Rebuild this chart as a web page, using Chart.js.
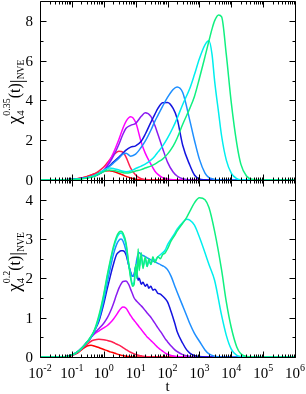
<!DOCTYPE html>
<html>
<head>
<meta charset="utf-8">
<script src="https://cdn.jsdelivr.net/npm/chart.js@4.4.1/dist/chart.umd.min.js"></script>
<style>
  html, body { margin: 0; padding: 0; background: #fff; }
  #wrap { position: relative; width: 306px; height: 394px; }
  #topChart { position: absolute; left: 0; top: 0; }
  #botChart { position: absolute; left: 0; top: 180px; }
</style>
</head>
<body>
<div id="wrap">
  <canvas id="topChart" width="306" height="190"></canvas>
  <canvas id="botChart" width="306" height="214"></canvas>
</div>
<script>
// --- top panel: chi4 at q = 0.35 ---
const tTop = [
  0.01, 0.05, 0.1, 0.2, 0.3, 0.5, 0.7, 1, 1.5, 2,
  3, 4, 5, 7, 10, 15, 20, 30, 40, 50,
  70, 100, 150, 200, 300, 500, 700, 1000, 1500, 2000,
  2500, 3000, 4000, 5000, 7000, 1e4, 1.5e4, 2e4, 3e4, 5e4,
  1e5, 1e6];

const redTop = [
  0, 0, 0.03, 0.1, 0.18, 0.3, 0.38, 0.45, 0.47, 0.43,
  0.33, 0.25, 0.18, 0.1, 0.04, 0.01, 0, 0, 0, 0,
  0, 0, 0, 0, 0, 0, 0, 0, 0, 0,
  0, 0, 0, 0, 0, 0, 0, 0, 0, 0,
  0, 0];
const crimsonTop = [
  0, 0, 0.03, 0.1, 0.17, 0.3, 0.45, 0.65, 1.0, 1.25,
  1.45, 1.4, 1.15, 0.6, 0.25, 0.06, 0.02, 0, 0, 0,
  0, 0, 0, 0, 0, 0, 0, 0, 0, 0,
  0, 0, 0, 0, 0, 0, 0, 0, 0, 0,
  0, 0];
const magentaTop = [
  0, 0, 0.03, 0.08, 0.12, 0.2, 0.3, 0.5, 0.95, 1.35,
  2.05, 2.6, 2.95, 3.18, 2.9, 1.9, 1.35, 0.8, 0.45, 0.28,
  0.12, 0.05, 0.01, 0, 0, 0, 0, 0, 0, 0,
  0, 0, 0, 0, 0, 0, 0, 0, 0, 0,
  0, 0];
const purpleTop = [
  0, 0, 0.03, 0.08, 0.12, 0.2, 0.3, 0.48, 0.85, 1.2,
  1.8, 2.3, 2.6, 2.75, 2.85, 3.2, 3.38, 3.2, 2.75, 2.3,
  1.6, 0.9, 0.4, 0.2, 0.06, 0.01, 0, 0, 0, 0,
  0, 0, 0, 0, 0, 0, 0, 0, 0, 0,
  0, 0];
const blueTop = [
  0, 0, 0.03, 0.08, 0.12, 0.2, 0.3, 0.45, 0.7, 0.9,
  1.15, 1.35, 1.5, 1.65, 1.72, 1.95, 2.3, 2.9, 3.3, 3.6,
  3.88, 3.9, 3.6, 3.1, 1.75, 0.75, 0.25, 0.05, 0.01, 0,
  0, 0, 0, 0, 0, 0, 0, 0, 0, 0,
  0, 0];
const dodgerTop = [
  0, 0, 0.03, 0.08, 0.12, 0.2, 0.3, 0.45, 0.68, 0.85,
  1.1, 1.3, 1.35, 1.2, 1.3, 1.65, 1.95, 2.5, 2.95, 3.25,
  3.7, 4.15, 4.55, 4.68, 4.4, 3.0, 2.0, 1.05, 0.35, 0.12,
  0.06, 0.03, 0.01, 0, 0, 0, 0, 0, 0, 0,
  0, 0];
const cyanTop = [
  0, 0, 0.02, 0.06, 0.12, 0.22, 0.35, 0.5, 0.6, 0.58,
  0.5, 0.44, 0.42, 0.45, 0.58, 0.7, 0.8, 1.0, 1.2, 1.4,
  1.7, 2.1, 2.65, 3.1, 3.8, 4.6, 5.3, 6.1, 6.8, 7.0,
  6.3, 5.0, 3.4, 2.2, 1.0, 0.35, 0.07, 0.01, 0, 0,
  0, 0];
const greenTop = [
  0, 0, 0.02, 0.05, 0.1, 0.18, 0.3, 0.42, 0.5, 0.48,
  0.42, 0.37, 0.35, 0.38, 0.45, 0.52, 0.6, 0.7, 0.8, 0.9,
  1.05, 1.3, 1.7, 2.1, 2.8, 3.6, 4.2, 5.1, 6.2, 7.0,
  7.6, 8.0, 8.3, 8.2, 6.3, 3.9, 1.8, 0.8, 0.2, 0.02,
  0, 0];

// --- bottom panel: chi4 at q = 0.2 ---
const tBot = [
  0.01, 0.05, 0.1, 0.15, 0.2, 0.3, 0.4, 0.5, 0.7, 1,
  1.3, 1.6, 2, 2.5, 3, 3.5, 4, 5, 6, 7,
  8, 9, 10, 11, 12, 13, 15, 17, 20, 23,
  26, 30, 35, 40, 50, 60, 70, 85, 100, 130,
  170, 200, 300, 400, 500, 700, 1000, 1500, 2000, 3000,
  5000, 7000, 1e4, 1.5e4, 2e4, 3e4, 5e4, 1e5, 1e6];

const redBot = [
  0, 0, 0.04, 0.1, 0.18, 0.28, 0.3, 0.28, 0.24, 0.19,
  0.16, 0.13, 0.11, 0.08, 0.06, 0.045, 0.035, 0.02, 0.012, 0.006,
  0.003, 0, 0, 0, 0, 0, 0, 0, 0, 0,
  0, 0, 0, 0, 0, 0, 0, 0, 0, 0,
  0, 0, 0, 0, 0, 0, 0, 0, 0, 0,
  0, 0, 0, 0, 0, 0, 0, 0, 0];
const crimsonBot = [
  0, 0, 0.05, 0.12, 0.2, 0.32, 0.4, 0.43, 0.45, 0.44,
  0.42, 0.4, 0.37, 0.33, 0.3, 0.27, 0.24, 0.19, 0.15, 0.12,
  0.1, 0.08, 0.065, 0.055, 0.045, 0.04, 0.03, 0.02, 0.012, 0.006,
  0.003, 0, 0, 0, 0, 0, 0, 0, 0, 0,
  0, 0, 0, 0, 0, 0, 0, 0, 0, 0,
  0, 0, 0, 0, 0, 0, 0, 0, 0];
const magentaBot = [
  0, 0, 0.05, 0.13, 0.22, 0.38, 0.5, 0.58, 0.66, 0.74,
  0.8, 0.87, 0.96, 1.07, 1.17, 1.24, 1.27, 1.24, 1.14, 1.05,
  0.98, 0.93, 0.88, 0.84, 0.8, 0.76, 0.7, 0.64, 0.57, 0.51,
  0.47, 0.42, 0.37, 0.32, 0.24, 0.19, 0.15, 0.1, 0.07, 0.04,
  0.02, 0.01, 0.003, 0, 0, 0, 0, 0, 0, 0,
  0, 0, 0, 0, 0, 0, 0, 0, 0];
const purpleBot = [
  0, 0, 0.05, 0.13, 0.22, 0.38, 0.5, 0.6, 0.72, 0.86,
  1.0, 1.15, 1.35, 1.58, 1.75, 1.86, 1.92, 1.93, 1.85, 1.72,
  1.6, 1.5, 1.45, 1.41, 1.38, 1.35, 1.3, 1.25, 1.18, 1.12,
  1.07, 1.01, 0.93, 0.86, 0.74, 0.65, 0.57, 0.46, 0.39, 0.28,
  0.18, 0.14, 0.06, 0.03, 0.015, 0.005, 0, 0, 0, 0,
  0, 0, 0, 0, 0, 0, 0, 0, 0];
const blueBot = [
  0, 0, 0.05, 0.13, 0.22, 0.38, 0.5, 0.65, 0.9, 1.35,
  1.75, 2.05, 2.35, 2.6, 2.67, 2.7, 2.7, 2.6, 2.35, 2.15,
  2.05, 2.1, 2.28, 2.15, 1.95, 2.0, 1.85, 1.9, 1.8, 1.85,
  1.75, 1.8, 1.7, 1.72, 1.62, 1.6, 1.55, 1.48, 1.4, 1.15,
  0.85, 0.65, 0.35, 0.18, 0.1, 0.04, 0.01, 0, 0, 0,
  0, 0, 0, 0, 0, 0, 0, 0, 0];
const dodgerBot = [
  0, 0, 0.05, 0.13, 0.22, 0.38, 0.5, 0.65, 0.95, 1.45,
  1.9, 2.25, 2.6, 2.85, 2.97, 3.0, 2.95, 2.7, 2.35, 2.15,
  2.05, 2.1, 2.3, 2.5, 2.62, 2.65, 2.6, 2.58, 2.55, 2.52,
  2.5, 2.47, 2.44, 2.42, 2.38, 2.35, 2.32, 2.28, 2.22, 2.05,
  1.8, 1.65, 1.3, 1.05, 0.85, 0.6, 0.4, 0.18, 0.08, 0.02,
  0, 0, 0, 0, 0, 0, 0, 0, 0];
const cyanBot = [
  0, 0, 0.05, 0.13, 0.22, 0.38, 0.52, 0.65, 1.0, 1.55,
  2.05, 2.4, 2.75, 3.0, 3.12, 3.15, 3.1, 2.85, 2.4, 2.05,
  1.85, 1.9, 2.3, 2.0, 2.6, 2.3, 2.55, 2.3, 2.5, 2.3,
  2.45, 2.35, 2.5, 2.45, 2.55, 2.6, 2.65, 2.72, 2.85, 3.0,
  3.15, 3.25, 3.42, 3.5, 3.48, 3.35, 3.05, 2.65, 2.35, 1.95,
  1.05, 0.55, 0.2, 0.04, 0.01, 0, 0, 0, 0];
const greenBot = [
  0, 0, 0.05, 0.13, 0.22, 0.38, 0.53, 0.67, 1.05, 1.6,
  2.1, 2.45, 2.8, 3.05, 3.17, 3.2, 3.15, 2.9, 2.4, 2.0,
  1.8, 1.85, 2.35, 2.0, 2.75, 2.2, 2.65, 2.25, 2.55, 2.3,
  2.5, 2.35, 2.55, 2.4, 2.55, 2.5, 2.6, 2.65, 2.75, 2.95,
  3.1, 3.2, 3.4, 3.55, 3.7, 3.92, 4.05, 4.0, 3.8, 3.2,
  2.2, 1.4, 0.75, 0.25, 0.08, 0.01, 0, 0, 0];

// axis ticks
const xExps = [-2, -1, 0, 1, 2, 3, 4, 5, 6];
const yTopTicks = [0, 2, 4, 6, 8];
const yTopMinor = [1, 3, 5, 7];
const yBotTicks = [0, 1, 2, 3, 4];
const yBotMinor = [0.5, 1.5, 2.5, 3.5];

const colors = ['#ff0000', '#ff1f4f', '#ff00ff', '#8a1cf0', '#1414e0', '#1e8fff', '#00eeee', '#10f080'];
const serif = '"Liberation Serif", "DejaVu Serif", serif';

function makeDatasets(t, series) {
  // first dataset is painted last, so reverse to keep green on top
  return series.map((vals, i) => ({
    data: vals.map((v, k) => ({ x: t[k], y: v })),
    borderColor: colors[i],
    borderWidth: 1.5,
    pointRadius: 0,
    cubicInterpolationMode: 'monotone',
    fill: false
  })).reverse();
}

function drawTitle(ctx, parts, cx, cy) {
  ctx.save();
  ctx.translate(cx, cy);
  ctx.rotate(-Math.PI / 2);
  ctx.fillStyle = '#000';
  ctx.textBaseline = 'alphabetic';
  ctx.textAlign = 'left';
  let total = 0;
  const widths = parts.map(p => {
    ctx.font = p.size + 'px ' + serif;
    let w = ctx.measureText(p.text).width;
    if (p.sup) {
      ctx.font = p.supSize + 'px ' + serif;
      w = Math.max(w, ctx.measureText(p.sup).width);
    }
    total += w;
    return w;
  });
  let pos = -total / 2;
  parts.forEach((p, i) => {
    ctx.font = p.size + 'px ' + serif;
    ctx.fillText(p.text, pos, p.dy || 0);
    if (p.sup) {
      ctx.font = p.supSize + 'px ' + serif;
      ctx.fillText(p.sup, pos, p.supDy);
    }
    pos += widths[i];
  });
  ctx.restore();
}

function framePlugin(yTicks, yMinor, title, titleY, withXLabels) {
  return {
    id: 'frame',
    afterDraw(chart) {
      const { ctx, chartArea: a, scales: { x, y } } = chart;
      const L = Math.round(a.left) + 0.5, R = Math.round(a.right) + 0.5;
      const T = Math.round(a.top) + 0.5, B = Math.round(a.bottom) + 0.5;
      ctx.save();
      ctx.strokeStyle = '#000';
      ctx.lineWidth = 1;
      ctx.beginPath();
      ctx.rect(L, T, R - L, B - T);
      // log ticks top and bottom
      xExps.forEach(e => {
        for (let m = 1; m <= 9; m++) {
          if (e === 6 && m > 1) break;
          const px = Math.round(x.getPixelForValue(m * Math.pow(10, e))) + 0.5;
          const len = m === 1 ? 6 : 3;
          ctx.moveTo(px, B); ctx.lineTo(px, B - len);
          ctx.moveTo(px, T); ctx.lineTo(px, T + len);
        }
      });
      yTicks.forEach(v => {
        const py = Math.round(y.getPixelForValue(v)) + 0.5;
        ctx.moveTo(L, py); ctx.lineTo(L + 6, py);
        ctx.moveTo(R, py); ctx.lineTo(R - 6, py);
      });
      yMinor.forEach(v => {
        const py = Math.round(y.getPixelForValue(v)) + 0.5;
        ctx.moveTo(L, py); ctx.lineTo(L + 3, py);
        ctx.moveTo(R, py); ctx.lineTo(R - 3, py);
      });
      ctx.stroke();

      ctx.fillStyle = '#000';
      ctx.font = '15px ' + serif;
      ctx.textAlign = 'right';
      ctx.textBaseline = 'middle';
      yTicks.forEach(v => {
        ctx.fillText(String(v), a.left - 7, y.getPixelForValue(v) + 1);
      });

      if (withXLabels) {
        ctx.textBaseline = 'alphabetic';
        ctx.textAlign = 'left';
        const base = B + 20;
        xExps.forEach(e => {
          const px = x.getPixelForValue(Math.pow(10, e));
          ctx.font = '15px ' + serif;
          const w1 = ctx.measureText('10').width;
          ctx.font = '10px ' + serif;
          const w2 = ctx.measureText(String(e)).width;
          const sx = px - (w1 + w2) / 2;
          ctx.font = '15px ' + serif;
          ctx.fillText('10', sx, base);
          ctx.font = '10px ' + serif;
          ctx.fillText(String(e), sx + w1, base - 7);
        });
        ctx.font = '15px ' + serif;
        ctx.textAlign = 'center';
        ctx.fillText('t', (a.left + a.right) / 2, base + 13);
      }
      drawTitle(ctx, title, 20, titleY);
      ctx.restore();
    }
  };
}

function makeChart(id, t, series, yMax, padding, plugin) {
  return new Chart(document.getElementById(id), {
    type: 'line',
    data: { datasets: makeDatasets(t, series) },
    options: {
      responsive: false,
      animation: false,
      events: [],
      layout: { padding: padding },
      plugins: { legend: { display: false }, tooltip: { enabled: false } },
      scales: {
        x: { type: 'logarithmic', min: 0.01, max: 1e6, display: false },
        y: { type: 'linear', min: 0, max: yMax, display: false }
      }
    },
    plugins: [plugin]
  });
}

const topTitle = [
  { text: 'χ', size: 19 },
  { text: '4', size: 11, dy: 4, sup: '0.35', supSize: 10, supDy: -10 },
  { text: '(t)', size: 16 },
  { text: '|', size: 19, dy: 3 },
  { text: 'NVE', size: 9.5, dy: 4 }
];
const botTitle = [
  { text: 'χ', size: 19 },
  { text: '4', size: 11, dy: 4, sup: '0.2', supSize: 10, supDy: -10 },
  { text: '(t)', size: 16 },
  { text: '|', size: 19, dy: 3 },
  { text: 'NVE', size: 9.5, dy: 4 }
];

makeChart('topChart', tTop,
  [redTop, crimsonTop, magentaTop, purpleTop, blueTop, dodgerTop, cyanTop, greenTop],
  9, { left: 40, right: 11, top: 1, bottom: 10 },
  framePlugin(yTopTicks, yTopMinor, topTitle, 92, false));

makeChart('botChart', tBot,
  [redBot, crimsonBot, magentaBot, purpleBot, blueBot, dodgerBot, cyanBot, greenBot],
  4.5, { left: 40, right: 11, top: 0, bottom: 37 },
  framePlugin(yBotTicks, yBotMinor, botTitle, 82, true));
</script>
</body>
</html>
